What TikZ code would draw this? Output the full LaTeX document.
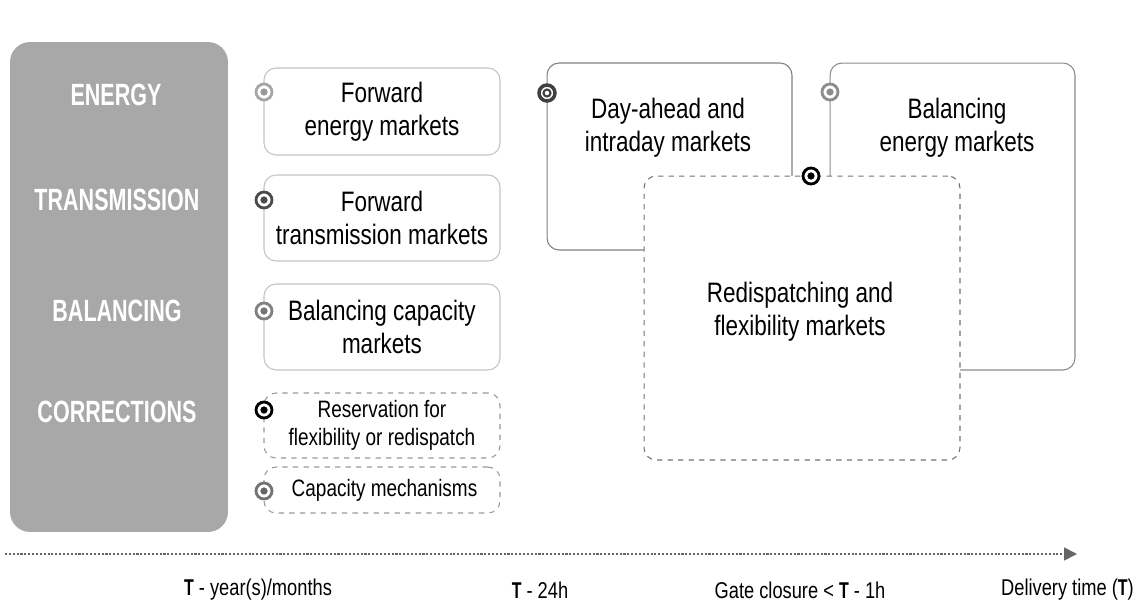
\documentclass[tikz,border=0pt]{standalone}
\usepackage{fontspec}
\setmainfont[FakeStretch=0.8,BoldFeatures={FakeStretch=0.7}]{Liberation Sans}
\usetikzlibrary{arrows.meta}

\definecolor{panelgrey}{HTML}{A8A8A8}
\definecolor{edgegrey}{HTML}{C4C4C4}

\tikzset{
	box/.style={draw=edgegrey, line width=0.6pt, rounded corners=0.24cm, fill=white, inner sep=0pt, align=center, font=\fontsize{16}{19}\selectfont},
	dashbox/.style={box, draw=black!55, dashed},
	boxtext/.style={align=center, font=\fontsize{16}{19}\selectfont},
	ring/.style={circle, draw=#1, line width=1.6pt, fill=white, minimum size=0.32cm, inner sep=0pt},
	pip/.style={circle, fill=#1, minimum size=0.145cm, inner sep=0pt},
	rowlabel/.style={text=white, font=\fontsize{17.5}{20}\selectfont\bfseries},
	timelabel/.style={font=\fontsize{13}{15}\selectfont}
}

\begin{document}
\begin{tikzpicture}[x=0.02cm, y=-0.02cm]
		%%%%% START %%%%%
		\useasboundingbox (0, 0) rectangle (1140, 602);
		
		% grey row panel
		\node[fill=panelgrey, rounded corners=0.4cm, minimum width=4.36cm, minimum height=9.8cm] (panel) at (119, 287) {};
		\node[rowlabel] (energy) at (116, 95) {ENERGY};
		\node[rowlabel] (transmission) at (117, 200) {TRANSMISSION};
		\node[rowlabel] (balancing) at (117, 311) {BALANCING};
		\node[rowlabel] (corrections) at (117, 412) {CORRECTIONS};
		
		% forward and long-term boxes
		\node[box, minimum width=4.72cm, minimum height=1.74cm] (fwdenergy) at (382, 111.5) {Forward\\energy markets};
		\node[box, minimum width=4.72cm, minimum height=1.72cm] (fwdtrans) at (382, 218) {Forward\\transmission markets};
		\node[box, minimum width=4.72cm, minimum height=1.72cm] (balcap) at (382, 327) {Balancing capacity\\markets};
		\node[dashbox, draw=black!40, minimum width=4.72cm, minimum height=1.3cm, font=\fontsize{13.5}{16}\selectfont] (reserve) at (382, 425.5) {Reservation for\\flexibility or redispatch};
		\node[dashbox, draw=black!40, minimum width=4.72cm, minimum height=0.92cm, font=\fontsize{13.5}{16}\selectfont] (capmech) at (382, 490) {\hspace*{0.1cm}Capacity mechanisms};
		
		% short-term boxes
		\node[box, draw=black!50, minimum width=4.9cm, minimum height=3.74cm] (dayahead) at (669.5, 156.5) {};
		\node[box, draw=black!45, minimum width=4.9cm, minimum height=6.14cm] (balenergy) at (952.5, 216.5) {};
		\node[boxtext] (dayahead-txt) at (668, 128) {Day-ahead and\\intraday markets};
		\node[boxtext] (balenergy-txt) at (957, 128) {Balancing\\energy markets};
		\node[dashbox, minimum width=6.32cm, minimum height=5.68cm] (redispatch) at (802, 318) {};
		\node[boxtext] (redispatch-txt) at (800, 312) {Redispatching and\\flexibility markets};
		
		% markers
		\node[ring=black!35] (fwdenergy-ring) at (264, 92) {};
		\node[pip=black!40] at (fwdenergy-ring) {};
		\node[ring=black!70] (fwdtrans-ring) at (264, 200) {};
		\node[pip=black!70] at (fwdtrans-ring) {};
		\node[ring=black!50] (balcap-ring) at (264, 311) {};
		\node[pip=black!55] at (balcap-ring) {};
		\node[ring=black] (reserve-ring) at (264, 410) {};
		\node[pip=black] at (reserve-ring) {};
		\node[ring=black!55] (capmech-ring) at (264, 491) {};
		\node[pip=black!60] at (capmech-ring) {};
		\node[ring=black!75, line width=2pt] (dayahead-ring) at (547, 93) {};
		\node[circle, draw=black!75, line width=1.2pt, fill=white, minimum size=0.14cm, inner sep=0pt] at (dayahead-ring) {};
		\node[ring=black!45] (balenergy-ring) at (830, 92) {};
		\node[pip=black!45] at (balenergy-ring) {};
		\node[ring=black] (redispatch-ring) at (811, 176) {};
		\node[pip=black] at (redispatch-ring) {};
		
		% time axis
		\coordinate (t-start) at (5, 554);
		\coordinate (t-end) at (1077, 554);
		\draw[black!60, line width=1pt, dash pattern=on 1.2pt off 1pt, -{Triangle[length=0.26cm, width=0.26cm]}] (t-start) -- (t-end);
		\node[timelabel] (years) at (258, 590) {\textbf{T} - year(s)/months};
		\node[timelabel] (dayminus) at (540, 590) {\textbf{T} - 24h};
		\node[timelabel] (gate) at (800, 590) {Gate closure < \textbf{T} - 1h};
		\node[timelabel, anchor=east] (delivery) at (1140, 590) {Delivery time (\textbf{T})};
		
		%%%%% END %%%%%
\end{tikzpicture}
\end{document}
